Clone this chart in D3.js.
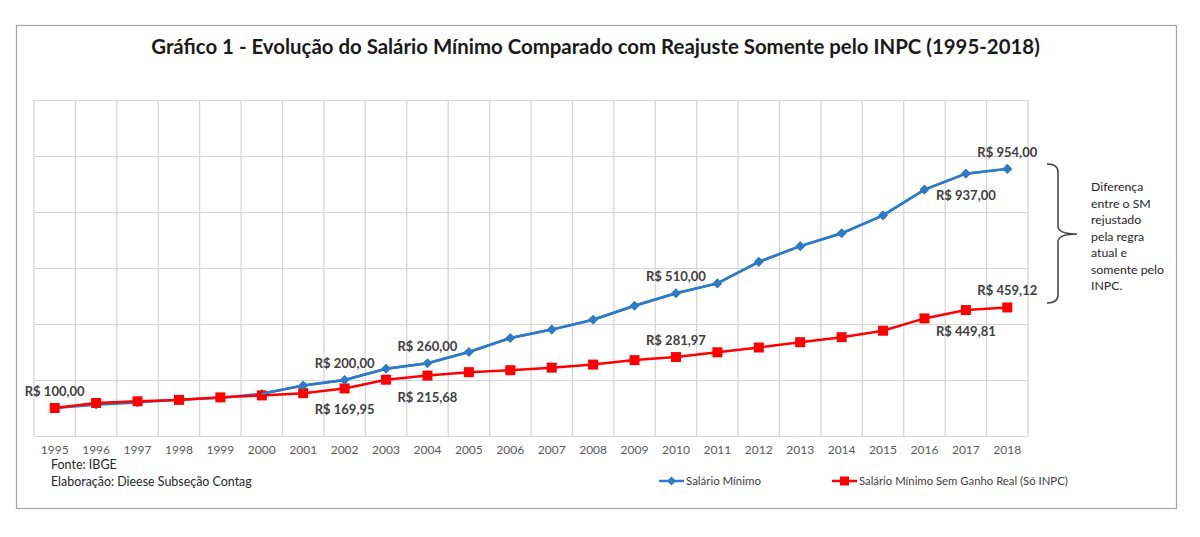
<!DOCTYPE html>
<html><head><meta charset="utf-8">
<script src="https://cdn.jsdelivr.net/npm/d3@7"></script>
<style>body{margin:0;background:#fff}svg{display:block}text{font-family:Lato,"Open Sans",sans-serif}</style>
</head><body><svg id="c" width="1200" height="537"></svg>
<script>
const years = ["1995","1996","1997","1998","1999","2000","2001","2002","2003","2004","2005","2006","2007","2008","2009","2010","2011","2012","2013","2014","2015","2016","2017","2018"];
const salarioMinimo = [100,112,120,130,136,151,180,200,240,260,300,350,380,415,465,510,545,622,678,724,788,880,937,954];
const salarioINPC = [100,118,124,129,138,145,153,169.95,201,215.68,228,235,244,255,271,281.97,299,316,335,353,376,420,449.81,459.12];
const yTicks = [0,200,400,600,800,1000,1200];
// label: [series, index, position, text]
const dataLabels = [
  ["sm",0,"above","R$ 100,00"],
  ["sm",7,"above","R$ 200,00"],
  ["inpc",7,"below","R$ 169,95"],
  ["sm",9,"above","R$ 260,00"],
  ["inpc",9,"below","R$ 215,68"],
  ["sm",15,"above","R$ 510,00"],
  ["inpc",15,"above","R$ 281,97"],
  ["sm",22,"below","R$ 937,00"],
  ["sm",23,"above","R$ 954,00"],
  ["inpc",23,"above","R$ 459,12"],
  ["inpc",22,"below","R$ 449,81"]
];
const titleText = "Gráfico 1 - Evolução do Salário Mínimo Comparado com Reajuste Somente pelo INPC (1995-2018)";
const braceLines = ["Diferença","entre o SM","rejustado","pela regra","atual e","somente pelo","INPC."];
const legendNames = ["Salário Mínimo","Salário Mínimo Sem Ganho Real (Só INPC)"];

const svg = d3.select("#c");
const blue = "#2D7BC6", red = "#FF0000", txt = "#404040";

function fit(sel, w){
  const n = sel.node(); const fs = parseFloat(sel.attr("font-size"));
  const cw = n.getComputedTextLength(); sel.attr("font-size", fs*w/cw);
}

// outer frame
svg.append("rect").attr("x",16.5).attr("y",25.5).attr("width",1160).attr("height",483)
  .attr("fill","#fff").attr("stroke","#a6a6a6").attr("stroke-width",1.2);

// title
const t = svg.append("text").attr("x",595.5).attr("y",54).attr("text-anchor","middle")
  .attr("font-size",20).attr("font-weight","bold").attr("fill","#1a1a1a").text(titleText);
fit(t, 889);

const x = d3.scaleBand().domain(years).range([34,1028]);
const y = d3.scaleLinear().domain([0,1200]).range([436,100]);
const cx = d => x(d)+x.bandwidth()/2;

// horizontal grid
svg.append("g").attr("transform","translate(34,0)")
  .call(d3.axisLeft(y).tickValues(yTicks).tickSize(-994).tickFormat(""))
  .call(g=>g.select(".domain").remove())
  .call(g=>g.selectAll("line").attr("stroke","#d4d4d4").attr("stroke-width",1.2));
// vertical grid at band edges
svg.append("g").selectAll("line").data(d3.range(years.length+1)).join("line")
  .attr("x1",i=>34+i*x.step()).attr("x2",i=>34+i*x.step())
  .attr("y1",100).attr("y2",436).attr("stroke","#d4d4d4").attr("stroke-width",1.2);

// x axis labels
svg.append("g").attr("transform","translate(0,436)")
  .call(d3.axisBottom(x).tickSize(0).tickPadding(9))
  .call(g=>g.select(".domain").remove())
  .call(g=>g.selectAll("text").attr("font-size",12).attr("fill","#595959")
     .style("font-family","Lato,sans-serif"));

const diamond = d3.symbol(d3.symbolSquare,46)();
const line = d3.line().x((d,i)=>cx(years[i])).y(d=>y(d));
svg.append("path").datum(salarioMinimo).attr("d",line).attr("fill","none").attr("stroke",blue).attr("stroke-width",2.5);
svg.selectAll(".bm").data(salarioMinimo).join("path").attr("class","bm")
  .attr("d",diamond)
  .attr("transform",(d,i)=>`translate(${cx(years[i])},${y(d)}) rotate(45)`).attr("fill",blue);
svg.append("path").datum(salarioINPC).attr("d",line).attr("fill","none").attr("stroke",red).attr("stroke-width",2.5);
svg.selectAll(".rm").data(salarioINPC).join("rect").attr("class","rm")
  .attr("x",(d,i)=>cx(years[i])-5).attr("y",d=>y(d)-5).attr("width",10).attr("height",10).attr("fill",red);
// blue line on top from 2000 on, where series separate
svg.append("path").datum(salarioMinimo.slice(5)).attr("d",d3.line().x((d,i)=>cx(years[i+5])).y(d=>y(d)))
  .attr("fill","none").attr("stroke",blue).attr("stroke-width",2.5);
svg.selectAll(".bm2").data(salarioMinimo.slice(6)).join("path").attr("class","bm2")
  .attr("d",diamond)
  .attr("transform",(d,i)=>`translate(${cx(years[i+6])},${y(d)}) rotate(45)`).attr("fill",blue);

// data labels
dataLabels.forEach(([s,i,pos,lab])=>{
  const v = s==="sm"?salarioMinimo[i]:salarioINPC[i];
  const ty = pos==="above"? y(v)-12 : y(v)+26;
  const tx = svg.append("text").attr("x",cx(years[i])).attr("y",ty).attr("text-anchor","middle")
    .attr("font-size",14).attr("font-weight","bold").attr("fill",txt).text(lab);
  fit(tx, 60);
});

// brace
const bp = d3.path();
bp.moveTo(1047,164); bp.quadraticCurveTo(1058,164,1058,172);
bp.lineTo(1058,226); bp.quadraticCurveTo(1058,234,1077,234);
bp.quadraticCurveTo(1058,234,1058,242);
bp.lineTo(1058,295); bp.quadraticCurveTo(1058,303,1047,303);
svg.append("path").attr("d",bp.toString()).attr("fill","none").attr("stroke","#404040").attr("stroke-width",1.5);
svg.append("g").selectAll("text").data(braceLines).join("text")
  .attr("x",1091).attr("y",(d,i)=>191+i*16.5).attr("font-size",12.3).attr("fill","#262626").text(d=>d);

// footer
svg.append("text").attr("x",51).attr("y",469).attr("font-size",12.5).attr("fill","#262626").text("Fonte: IBGE");
const el = svg.append("text").attr("x",51).attr("y",486).attr("font-size",12.5).attr("fill","#262626").text("Elaboração: Dieese Subseção Contag");
fit(el, 201);

// legend
const leg = [[659,blue,"d",legendNames[0],75],[832,red,"s",legendNames[1],209]];
leg.forEach(([lx,c,m,name,w])=>{
  const g = svg.append("g");
  g.append("line").attr("x1",lx).attr("x2",lx+25).attr("y1",481).attr("y2",481).attr("stroke",c).attr("stroke-width",2.5);
  if(m==="d") g.append("path").attr("d",d3.symbol(d3.symbolSquare,40)()).attr("transform",`translate(${lx+12.5},481) rotate(45)`).attr("fill",c);
  else g.append("rect").attr("x",lx+8).attr("y",476.5).attr("width",9).attr("height",9).attr("fill",c);
  const tt = g.append("text").attr("x",lx+27).attr("y",485).attr("font-size",11).attr("fill","#404040").text(name);
  fit(tt, w);
});
</script></body></html>
